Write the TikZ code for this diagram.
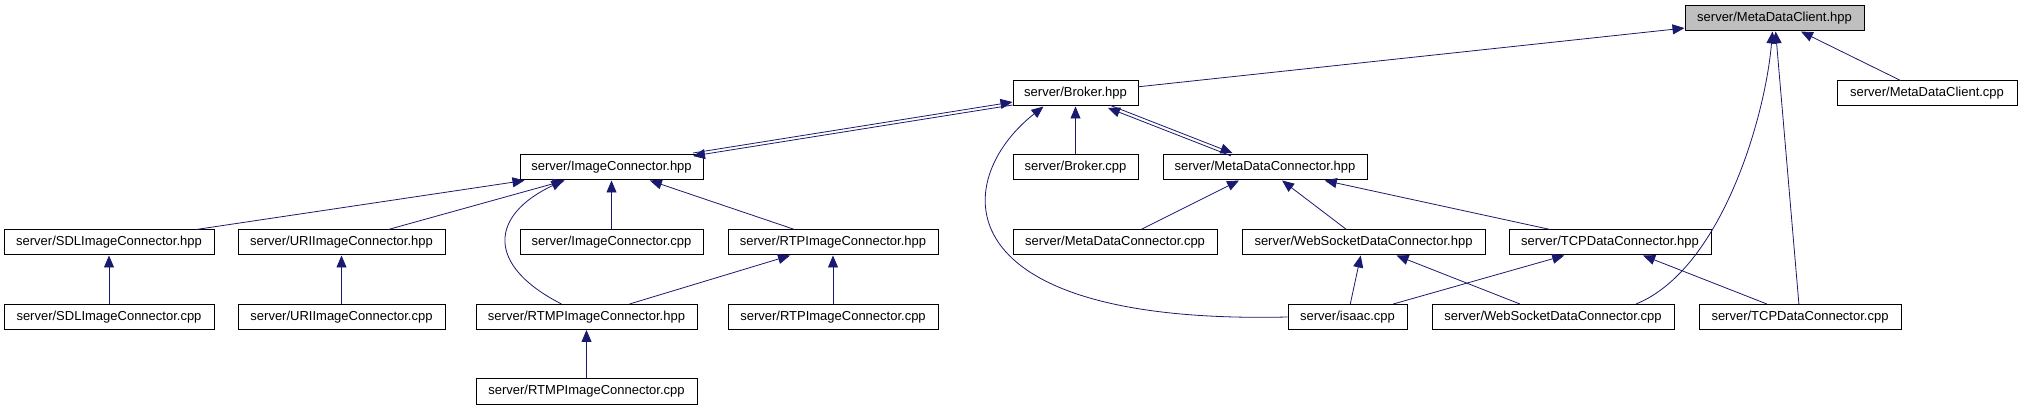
\documentclass[tikz,border=0pt]{standalone}
\usepackage{fontspec}
\setmainfont{Liberation Sans}
\usetikzlibrary{arrows.meta}

\definecolor{edgeblue}{HTML}{191970}
\definecolor{mainfill}{HTML}{BFBFBF}

\begin{document}
\begin{tikzpicture}[x=1pt, y=-1pt,
  file/.style={draw=black, fill=white, line width=1pt, minimum height=25pt, inner sep=0pt, font=\fontsize{13}{15}\selectfont},
  mainfile/.style={file, fill=mainfill},
  edge/.style={-{Triangle[length=12pt,width=10pt]}, draw=edgeblue, line width=0.8pt}]

% Fixed canvas
\useasboundingbox (0,0) rectangle (2021,411);

% Row 1 (the file itself)
\node[mainfile, minimum width=179pt] (clienthpp) at (1774.5,18.5) {server/MetaDataClient.hpp};

% Row 2
\node[file, minimum width=125pt] (brokerhpp) at (1075.5,93.5) {server/Broker.hpp};
\node[file, minimum width=180pt] (clientcpp) at (1927,93.5) {server/MetaDataClient.cpp};

% Row 3
\node[file, minimum width=183pt] (imagehpp) at (611.5,167.5) {server/ImageConnector.hpp};
\node[file, minimum width=125pt] (brokercpp) at (1075.5,167.5) {server/Broker.cpp};
\node[file, minimum width=204pt] (metahpp) at (1265,167.5) {server/MetaDataConnector.hpp};

% Row 4
\node[file, minimum width=210pt] (sdlhpp) at (109,242.5) {server/SDLImageConnector.hpp};
\node[file, minimum width=207pt] (urihpp) at (341.5,242.5) {server/URIImageConnector.hpp};
\node[file, minimum width=183pt] (imagecpp) at (611.5,242.5) {server/ImageConnector.cpp};
\node[file, minimum width=210pt] (rtphpp) at (833,242.5) {server/RTPImageConnector.hpp};
\node[file, minimum width=204pt] (metacpp) at (1115,242.5) {server/MetaDataConnector.cpp};
\node[file, minimum width=243pt] (websockethpp) at (1363.5,242.5) {server/WebSocketDataConnector.hpp};
\node[file, minimum width=202pt] (tcphpp) at (1610,242.5) {server/TCPDataConnector.hpp};

% Row 5
\node[file, minimum width=210pt] (sdlcpp) at (109,317) {server/SDLImageConnector.cpp};
\node[file, minimum width=207pt] (uricpp) at (341.5,317) {server/URIImageConnector.cpp};
\node[file, minimum width=221pt] (rtmphpp) at (586.5,317) {server/RTMPImageConnector.hpp};
\node[file, minimum width=210pt] (rtpcpp) at (833,317) {server/RTPImageConnector.cpp};
\node[file, minimum width=119pt] (isaaccpp) at (1347.5,317) {server/isaac.cpp};
\node[file, minimum width=242pt] (websocketcpp) at (1553,317) {server/WebSocketDataConnector.cpp};
\node[file, minimum width=202pt] (tcpcpp) at (1800,317) {server/TCPDataConnector.cpp};

% Row 6
\node[file, minimum width=221pt] (rtmpcpp) at (586.5,391.5) {server/RTMPImageConnector.cpp};

% Straight include edges
\foreach \from/\to in {brokerhpp/clienthpp, clientcpp/clienthpp, tcpcpp/clienthpp,
    brokercpp/brokerhpp, sdlhpp/imagehpp, urihpp/imagehpp, imagecpp/imagehpp,
    rtphpp/imagehpp, metacpp/metahpp, websockethpp/metahpp, tcphpp/metahpp,
    sdlcpp/sdlhpp, uricpp/urihpp, rtmphpp/rtphpp, rtpcpp/rtphpp, rtmpcpp/rtmphpp,
    isaaccpp/websockethpp, websocketcpp/websockethpp, isaaccpp/tcphpp, tcpcpp/tcphpp} {
    \draw[edge] (\from) -- (\to);
}

% Mutual includes (two lines each)
\draw[edge, transform canvas={yshift=1.5pt}] (imagehpp) -- (brokerhpp);
\draw[edge, transform canvas={yshift=-1.5pt}] (brokerhpp) -- (imagehpp);
\draw[edge, transform canvas={xshift=-0.8pt, yshift=-1.4pt}] (metahpp) -- (brokerhpp);
\draw[edge, transform canvas={xshift=0.8pt, yshift=1.4pt}] (brokerhpp) -- (metahpp);

% Curved edges
\draw[edge] ([xshift=-25pt]rtmphpp.north) .. controls (485,265) and (490,215) .. ([xshift=-48pt]imagehpp.south);
\draw[edge] (isaaccpp.west) .. controls (940,325) and (950,180) .. ([xshift=-32pt]brokerhpp.south);
\draw[edge] ([xshift=83pt]websocketcpp.north) .. controls (1720,270) and (1765,120) .. ([xshift=-2pt]clienthpp.south);
\end{tikzpicture}
\end{document}
